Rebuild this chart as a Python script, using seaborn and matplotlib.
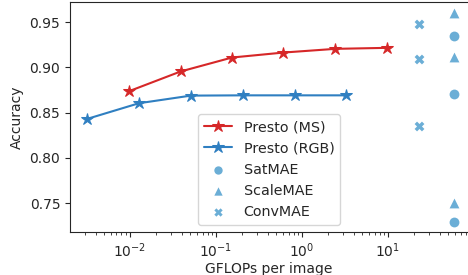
import numpy as np
import pandas as pd
import matplotlib
matplotlib.use("Agg")
import matplotlib.pyplot as plt
import seaborn as sns

# Presto curves (GFLOPs per image vs accuracy)
ms_gflops = [0.0098, 0.039, 0.154, 0.61, 2.45, 9.8]
ms_acc = [0.8736, 0.8954, 0.9108, 0.9163, 0.9204, 0.9215]
rgb_gflops = [0.0032, 0.0128, 0.0512, 0.205, 0.82, 3.28]
rgb_acc = [0.8430, 0.8603, 0.8687, 0.8690, 0.8690, 0.8690]

# baselines
satmae_gflops = [58.7, 58.7, 58.7]
satmae_acc = [0.9350, 0.8707, 0.7286]
scalemae_gflops = [58.7, 58.7, 58.7]
scalemae_acc = [0.9603, 0.9118, 0.7503]
convmae_gflops = [22.9, 22.9, 22.9]
convmae_acc = [0.9474, 0.9092, 0.8352]

red = "#d62728"
blue = "#2f7fc1"
light = "#6baed6"

sns.set_style("ticks")
fig = plt.figure(figsize=(4.68, 2.75), dpi=100)
ax = fig.add_axes([0.1496, 0.1575, 0.8504, 0.834])

sns.lineplot(x=ms_gflops, y=ms_acc, ax=ax, color=red, marker="*", markersize=9,
             markeredgecolor=red, linewidth=1.5, label="Presto (MS)")
sns.lineplot(x=rgb_gflops, y=rgb_acc, ax=ax, color=blue, marker="*", markersize=9,
             markeredgecolor=blue, linewidth=1.5, label="Presto (RGB)")
sns.scatterplot(x=satmae_gflops, y=satmae_acc, ax=ax, color=light, marker="o",
                s=50, linewidth=0, label="SatMAE")
sns.scatterplot(x=scalemae_gflops, y=scalemae_acc, ax=ax, color=light, marker="^",
                s=50, linewidth=0, label="ScaleMAE")
sns.scatterplot(x=convmae_gflops, y=convmae_acc, ax=ax, color=light, marker="X",
                s=50, linewidth=0, label="ConvMAE")

ax.set_xscale("log")
ax.set_xlim(10 ** -2.695, 10 ** 1.93)
ax.set_ylim(0.7183, 0.9718)
ax.set_yticks([0.75, 0.80, 0.85, 0.90, 0.95])
ax.set_xlabel("GFLOPs per image", labelpad=1.5)
ax.set_ylabel("Accuracy")
ax.spines["right"].set_visible(False)
leg = ax.legend(loc="lower center", fontsize=10.3)
for h in leg.legend_handles[2:]:
    h.set_sizes([36])

fig.savefig("out.png", dpi=100)
